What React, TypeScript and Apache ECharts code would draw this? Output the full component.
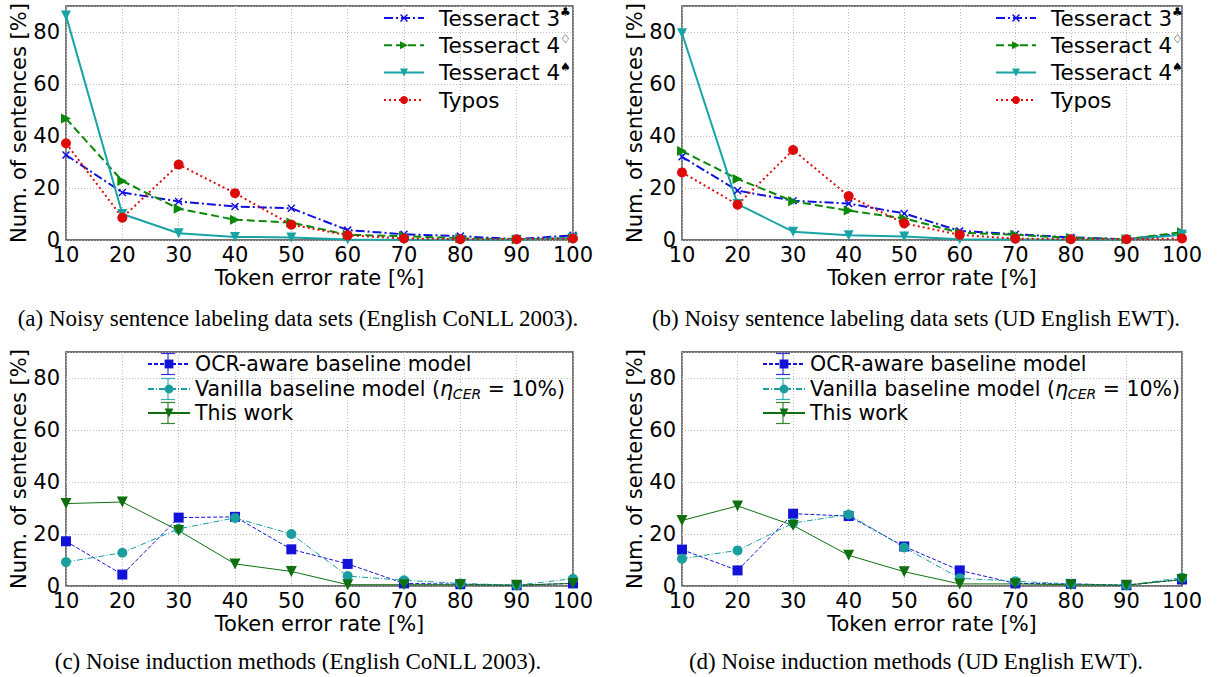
import React, { useEffect, useRef } from "react";
import * as echarts from "echarts";

// ---------- data ----------
const tokenErrorRates = [10, 20, 30, 40, 50, 60, 70, 80, 90, 100];

// (a) English CoNLL 2003
const aTesseract3 = [32.7, 18.3, 14.8, 12.9, 12.2, 3.8, 2.2, 1.5, 0.3, 1.8];
const aTesseract4d = [46.7, 22.7, 12.0, 7.8, 6.7, 2.0, 1.5, 0.7, 0.2, 0.8];
const aTesseract4s = [86.3, 10.0, 2.6, 1.2, 1.0, 0.2, 0.1, 0.1, 0.1, 0.8];
const aTypos = [37.2, 8.6, 29.0, 18.0, 5.9, 1.8, 0.6, 0.3, 0.3, 0.6];

// (b) UD English EWT
const bTesseract3 = [32.0, 19.0, 15.1, 14.0, 10.2, 3.5, 2.2, 1.0, 0.3, 2.5];
const bTesseract4d = [34.2, 23.5, 14.9, 11.3, 8.3, 2.8, 2.0, 0.8, 0.3, 3.0];
const bTesseract4s = [79.5, 13.8, 3.2, 1.8, 1.3, 0.3, 0.2, 0.1, 0.1, 2.0];
const bTypos = [26.0, 13.6, 34.6, 16.9, 6.4, 2.0, 0.5, 0.3, 0.3, 0.6];

// (c) English CoNLL 2003
const cOcrAware = [17.2, 4.4, 26.3, 26.6, 14.1, 8.5, 1.0, 0.7, 0.3, 1.0];
const cVanilla = [9.2, 12.8, 22.0, 26.2, 20.0, 3.8, 2.2, 1.0, 0.3, 2.8];
const cThisWork = [31.7, 32.3, 21.3, 8.5, 5.6, 0.5, 0.5, 0.5, 0.3, 1.0];

// (d) UD English EWT
const dOcrAware = [14.0, 6.0, 27.8, 26.9, 15.2, 6.0, 1.0, 0.8, 0.3, 2.5];
const dVanilla = [10.5, 13.7, 24.2, 27.5, 14.8, 3.0, 1.8, 0.8, 0.3, 3.2];
const dThisWork = [25.2, 30.8, 23.3, 11.8, 5.5, 0.8, 0.8, 0.5, 0.3, 2.5];

const yTicks = [0, 20, 40, 60, 80];

const captions = [
  "(a) Noisy sentence labeling data sets (English CoNLL 2003).",
  "(b) Noisy sentence labeling data sets (UD English EWT).",
  "(c) Noise induction methods (English CoNLL 2003).",
  "(d) Noise induction methods (UD English EWT).",
];

// ---------- styles ----------
const FONT = "DejaVu Sans";
const AX_FS = 21;
const X_SYMBOL =
  "path://M0,1.3L1.3,0L5,3.7L8.7,0L10,1.3L6.3,5L10,8.7L8.7,10L5,6.3L1.3,10L0,8.7L3.7,5Z";
const RIGHT_TRI = "path://M0,0L10,5L0,10Z";
const DOWN_TRI = "path://M0,0L10,0L5,10Z";

const C_BLUE = "#1010e0";
const C_GREEN = "#0a880a";
const C_TEAL = "#18a4a4";
const C_RED = "#dd0a0a";
const C_BLUE2 = "#1212d8";
const C_TEAL2 = "#1a9e9e";
const C_GREEN2 = "#107010";

const grids = [
  { left: 66, top: 6, width: 507, height: 234 },
  { left: 682, top: 6, width: 500, height: 234 },
  { left: 66, top: 352, width: 507, height: 234 },
  { left: 682, top: 352, width: 500, height: 234 },
];

function pairs(vals: number[]) {
  return tokenErrorRates.map((x, i) => [x, vals[i]]);
}

function mkSeries(
  name: string,
  idx: number,
  vals: number[],
  color: string,
  width: number,
  type: any,
  symbol: string,
  size: number
) {
  return {
    type: "line",
    name,
    xAxisIndex: idx,
    yAxisIndex: idx,
    data: pairs(vals),
    symbol,
    symbolSize: size,
    showAllSymbol: true,
    lineStyle: { color, width, type },
    itemStyle: { color },
    emphasis: { disabled: true },
  };
}

const legendNames: Record<string, string> = {
  "Tesseract 3": "Tesseract 3{sup|♣}",
  "Tesseract 4 (light)": "Tesseract 4{sup|♢}",
  "Tesseract 4 (dark)": "Tesseract 4{sup|♠}",
  Typos: "Typos",
  "OCR-aware baseline model": "OCR-aware baseline model",
  "Vanilla baseline model": "Vanilla baseline model ({it|η}{sub|CER} = 10%)",
  "This work": "This work",
};

function legendItem(
  name: string,
  left: number,
  cy: number,
  iconW: number,
  pad: number,
  ih: number,
  fs: number
) {
  return {
    data: [name],
    left,
    top: cy - 12,
    orient: "horizontal",
    padding: 0,
    itemWidth: iconW,
    itemHeight: ih,
    selectedMode: false,
    formatter: (n: string) => legendNames[n] || n,
    textStyle: {
      fontFamily: FONT,
      fontSize: fs,
      color: "#000",
      lineHeight: 24,
      padding: [0, 0, 0, pad],
      rich: {
        sup: { fontFamily: FONT, fontSize: 12, verticalAlign: "top", lineHeight: 14, color: "#000" },
        it: { fontFamily: FONT, fontSize: fs, fontStyle: "italic", lineHeight: 24, color: "#000" },
        sub: {
          fontFamily: FONT,
          fontSize: 14,
          fontStyle: "italic",
          verticalAlign: "bottom",
          lineHeight: 14,
          color: "#000",
        },
      },
    },
  };
}

function errBarGlyph(cx: number, cy: number, color: string) {
  const h = 10.5;
  const cap = 7;
  const st = { stroke: color, lineWidth: 1.2, opacity: 0.85 };
  return [
    { type: "line", shape: { x1: cx, y1: cy - h, x2: cx, y2: cy + h }, style: st, z: 100 },
    { type: "line", shape: { x1: cx - cap, y1: cy - h, x2: cx + cap, y2: cy - h }, style: st, z: 100 },
    { type: "line", shape: { x1: cx - cap, y1: cy + h, x2: cx + cap, y2: cy + h }, style: st, z: 100 },
  ];
}

export default function App() {
  const ref = useRef<HTMLDivElement>(null);

  useEffect(() => {
    const chart = echarts.init(ref.current!, null, { renderer: "svg" });

    const xAxis = grids.map((_, i) => ({
      type: "value",
      gridIndex: i,
      min: 10,
      max: 100,
      interval: 10,
      name: "Token error rate [%]",
      nameLocation: "middle",
      nameGap: 27,
      nameTextStyle: { fontFamily: FONT, fontSize: AX_FS, color: "#000" },
      axisLine: { show: false },
      axisTick: { show: false },
      axisLabel: { fontFamily: FONT, fontSize: AX_FS, color: "#000", margin: 4 },
      splitLine: { show: true, lineStyle: { color: "#b8b8b8", type: [1, 2], width: 1 } },
    }));

    const yAxis = grids.map((_, i) => ({
      type: "value",
      gridIndex: i,
      min: 0,
      max: 90,
      interval: 20,
      name: "Num. of sentences [%]",
      nameLocation: "middle",
      nameGap: 37,
      nameTextStyle: { fontFamily: FONT, fontSize: AX_FS, color: "#000" },
      axisLine: { show: false },
      axisTick: { show: false },
      axisLabel: {
        fontFamily: FONT,
        fontSize: AX_FS,
        color: "#000",
        margin: 6,
        showMaxLabel: false,
        formatter: (v: number) => (yTicks.includes(v) ? String(v) : ""),
      },
      splitLine: { show: true, lineStyle: { color: "#b8b8b8", type: [1, 2], width: 1 } },
    }));

    const series: any[] = [];
    // top panels
    [
      [aTesseract3, aTesseract4d, aTesseract4s, aTypos],
      [bTesseract3, bTesseract4d, bTesseract4s, bTypos],
    ].forEach((set, i) => {
      series.push(mkSeries("Tesseract 3", i, set[0], C_BLUE, 2, [9, 3, 2, 3], X_SYMBOL, 8));
      series.push(mkSeries("Tesseract 4 (light)", i, set[1], C_GREEN, 2, [8, 4], RIGHT_TRI, 10));
      series.push(mkSeries("Tesseract 4 (dark)", i, set[2], C_TEAL, 2, "solid", DOWN_TRI, 10));
      series.push(mkSeries("Typos", i, set[3], C_RED, 2, [2, 3], "circle", 10));
    });
    // bottom panels
    [
      [cOcrAware, cVanilla, cThisWork],
      [dOcrAware, dVanilla, dThisWork],
    ].forEach((set, j) => {
      const i = j + 2;
      series.push(mkSeries("OCR-aware baseline model", i, set[0], C_BLUE2, 1, [4, 2], "rect", 10));
      series.push(mkSeries("Vanilla baseline model", i, set[1], C_TEAL2, 1, [6, 2, 1, 2], "circle", 10));
      series.push(mkSeries("This work", i, set[2], C_GREEN2, 1, "solid", DOWN_TRI, 11));
    });

    const topNames = ["Tesseract 3", "Tesseract 4 (light)", "Tesseract 4 (dark)", "Typos"];
    const topY = [18, 45.3, 72.6, 100];
    const botNames = ["OCR-aware baseline model", "Vanilla baseline model", "This work"];
    const botY = [364, 389, 413];
    const legend: any[] = [];
    topNames.forEach((n, k) => {
      legend.push(legendItem(n, 383, topY[k], 40, 10, 10, 21.5));
      legend.push(legendItem(n, 995, topY[k], 40, 10, 10, 21.5));
    });
    botNames.forEach((n, k) => {
      legend.push(legendItem(n, 147, botY[k], 42, 0, 11, 20.5));
      legend.push(legendItem(n, 762, botY[k], 42, 0, 11, 20.5));
    });

    const botColors = [C_BLUE2, C_TEAL2, C_GREEN2];
    const graphic: any[] = [];
    botY.forEach((cy, k) => {
      graphic.push(...errBarGlyph(168, cy, botColors[k]));
      graphic.push(...errBarGlyph(783, cy, botColors[k]));
    });
    const capPos = [
      [298, 318],
      [916, 318],
      [298, 661],
      [916, 661],
    ];
    captions.forEach((t, k) => {
      graphic.push({
        type: "text",
        x: capPos[k][0],
        y: capPos[k][1],
        style: {
          text: t,
          fontFamily: "Liberation Serif",
          fontSize: 23,
          fill: "#000",
          align: "center",
          verticalAlign: "middle",
        },
      });
    });

    chart.setOption({
      animation: false,
      backgroundColor: "#fff",
      grid: grids.map((g) => ({
        ...g,
        show: true,
        borderColor: "#444",
        borderWidth: 1.4,
        backgroundColor: "transparent",
      })),
      xAxis,
      yAxis,
      legend,
      series,
      graphic,
    });

    return () => chart.dispose();
  }, []);

  return (
    <div
      ref={ref}
      style={{ position: "fixed", left: 0, top: 0, width: 1219, height: 677, background: "#fff" }}
    />
  );
}
